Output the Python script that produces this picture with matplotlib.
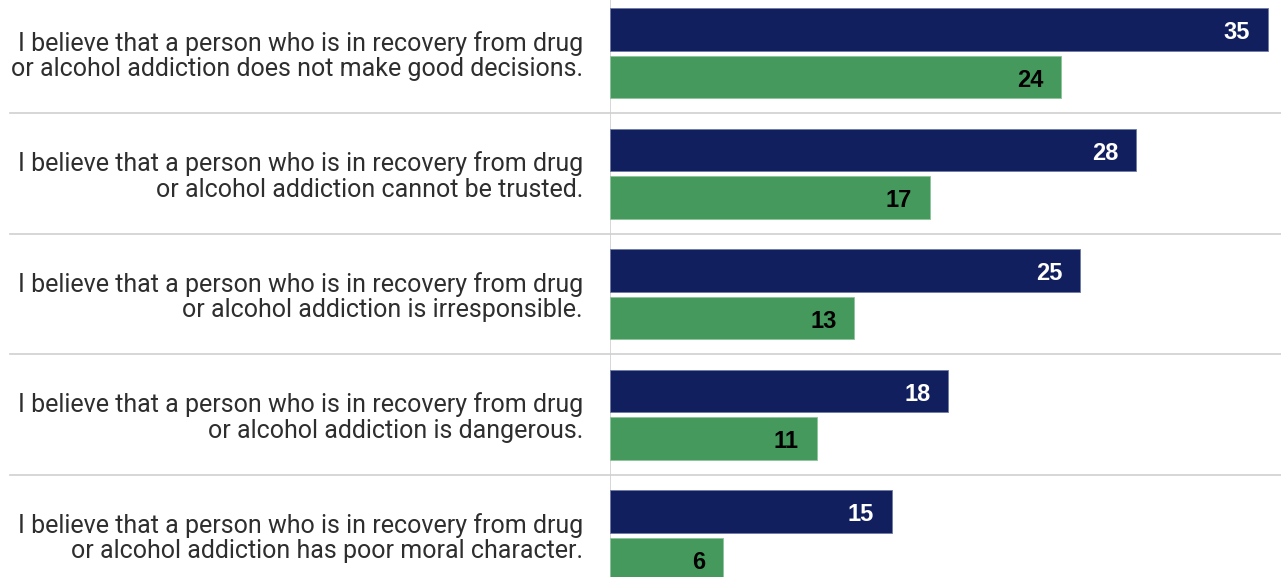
import matplotlib.pyplot as plt
import matplotlib.transforms as mtransforms

# data
statements = [
    'I believe that a person who is in recovery from drug\nor alcohol addiction does not make good decisions.',
    'I believe that a person who is in recovery from drug\nor alcohol addiction cannot be trusted.',
    'I believe that a person who is in recovery from drug\nor alcohol addiction is irresponsible.',
    'I believe that a person who is in recovery from drug\nor alcohol addiction is dangerous.',
    'I believe that a person who is in recovery from drug\nor alcohol addiction has poor moral character.',
]
series_navy = [35, 28, 25, 18, 15]
series_green = [24, 17, 13, 11, 6]

navy = '#111f5f'
green = '#45995d'
grid_grey = '#cfcfcf'

fig = plt.figure(figsize=(12.81, 5.77), dpi=100)
ax = fig.add_axes([610 / 1281, 0, 671 / 1281, 1])

bar_h = 0.355
n = len(statements)
for i in range(n):
    yb = i + 0.245
    yg = i + 0.639
    ax.barh(yb, series_navy[i], height=bar_h, color=navy, edgecolor='#6f7aa5', linewidth=0.6)
    ax.barh(yg, series_green[i], height=bar_h, color=green, edgecolor='#8cc49b', linewidth=0.6)
    ax.text(series_navy[i] - 0.95, yb + 0.025, str(series_navy[i]), ha='right', va='center',
            color='white', fontsize=17, fontweight='bold', family='Liberation Sans')
    ax.text(series_green[i] - 0.95, yg + 0.025, str(series_green[i]), ha='right', va='center',
            color='black', fontsize=17, fontweight='bold', family='Liberation Sans')
    ax.text(-27 / 18.8, i + 0.465, statements[i], ha='right', va='center', ma='right',
            fontsize=18, family='Roboto', color='#2e2e2e', linespacing=1.07)

# separators between groups, running into the label area
trans = mtransforms.blended_transform_factory(fig.transFigure, ax.transData)
for i in range(n - 1):
    ax.plot([10 / 1281, 1.0], [i + 0.938, i + 0.938], transform=trans, color=grid_grey,
            lw=1.2, clip_on=False, zorder=0)

ax.axvline(0, color=grid_grey, lw=1.2, zorder=0)

ax.set_xlim(0, 671 / 18.8)
ax.set_ylim(577 / 120.5, 0)
ax.axis('off')

fig.savefig('out.png', dpi=100)
